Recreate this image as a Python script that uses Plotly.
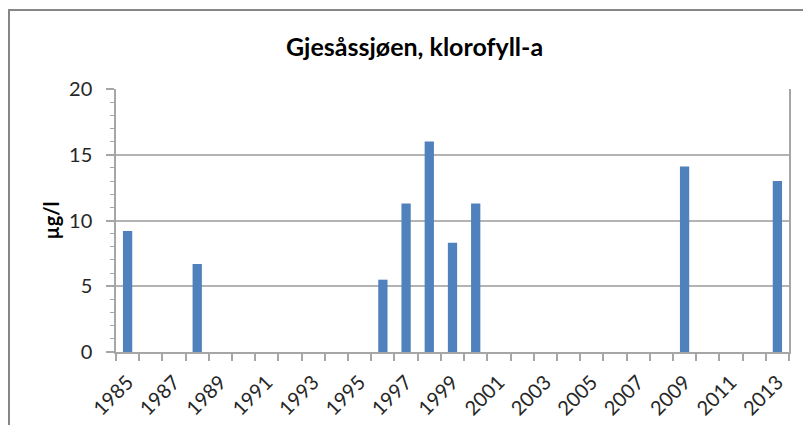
import plotly.graph_objects as go

years = [1985, 1988, 1996, 1997, 1998, 1999, 2000, 2009, 2013]
values = [9.2, 6.7, 5.5, 11.3, 16.0, 8.3, 11.3, 14.1, 13.0]
tick_years = list(range(1985, 2014, 2))
tick_labels = [str(y) for y in tick_years]
title_text = "Gjesåssjøen, klorofyll-a"
y_title = "µg/l"

FONT = "Lato, Carlito, Calibri, sans-serif"
AXIS = "#a6a6a6"

fig = go.Figure(go.Bar(x=years, y=values, marker=dict(color="#4f81bd", line=dict(width=0))))

fig.update_layout(
    width=811, height=425,
    margin=dict(l=108, r=30, t=81, b=81, autoexpand=False),
    paper_bgcolor="white", plot_bgcolor="white",
    bargap=0.6,
    showlegend=False,
    font=dict(family=FONT, color="#262626", size=18),
    xaxis=dict(
        range=[1984.5, 2013.5], automargin=False,
        tickmode="array", tickvals=tick_years, ticktext=tick_labels,
        tickangle=-45, ticks="", showgrid=False,
        showline=True, linecolor=AXIS, linewidth=1.5,
        ticklabelstandoff=9,
        minor=dict(ticks="outside", tick0=1984.5, dtick=1, ticklen=7, tickcolor=AXIS, tickwidth=1.5, showgrid=False),
        tickfont=dict(size=20),
        fixedrange=True,
    ),
    yaxis=dict(
        range=[0, 20], tickmode="linear", tick0=0, dtick=5, automargin=False,
        ticks="outside", ticklen=8, tickcolor=AXIS, tickwidth=1.5,
        showgrid=True, gridcolor="#b3b3b3", gridwidth=1.5,
        showline=True, linecolor=AXIS, linewidth=1.5, mirror=True,
        zeroline=False,
        ticklabelstandoff=10,
        minor=dict(ticks="outside", dtick=1, ticklen=4, tickcolor=AXIS, tickwidth=1, showgrid=False),
        tickfont=dict(size=20),
        fixedrange=True,
    ),
    shapes=[dict(type="rect", xref="paper", yref="paper",
                 x0=-0.159, x1=1.2, y0=-0.6, y1=1.3,
                 line=dict(color="#868686", width=2), fillcolor="rgba(0,0,0,0)", layer="above")],
    annotations=[
        dict(text=title_text, xref="paper", yref="paper", x=0.4428, y=1.1635,
             xanchor="center", yanchor="middle", showarrow=False,
             font=dict(size=25, family=FONT, color="#000000", weight="bold")),
        dict(text="<b>" + y_title + "</b>", xref="paper", yref="paper", x=-0.0966, y=0.5,
             xanchor="center", yanchor="middle", showarrow=False, textangle=-90,
             font=dict(size=20, family=FONT, color="#000000")),
    ],
)

fig.write_html("out.html")
